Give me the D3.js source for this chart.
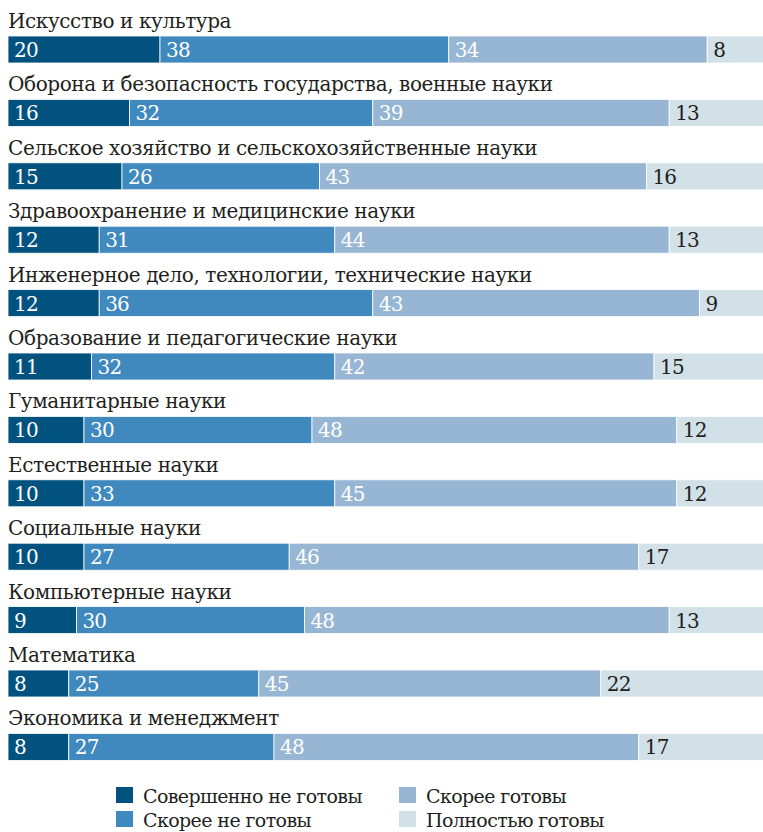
<!DOCTYPE html>
<html>
<head>
<meta charset="utf-8">
<script src="https://cdn.jsdelivr.net/npm/d3@7"></script>
<style>
  body { margin: 0; background: #fff; }
  svg { display: block; }
</style>
</head>
<body>
<svg id="chart" width="763" height="832"></svg>
<script>
// rows, top to bottom
const categories = [
  "Искусство и культура",
  "Оборона и безопасность государства, военные науки",
  "Сельское хозяйство и сельскохозяйственные науки",
  "Здравоохранение и медицинские науки",
  "Инженерное дело, технологии, технические науки",
  "Образование и педагогические науки",
  "Гуманитарные науки",
  "Естественные науки",
  "Социальные науки",
  "Компьютерные науки",
  "Математика",
  "Экономика и менеджмент"
];
const notReady     = [20, 16, 15, 12, 12, 11, 10, 10, 10, 9, 8, 8];
const ratherNot    = [38, 32, 26, 31, 36, 32, 30, 33, 27, 30, 25, 27];
const ratherReady  = [34, 39, 43, 44, 43, 42, 48, 45, 46, 48, 45, 48];
const fullyReady   = [8, 13, 16, 13, 9, 15, 12, 12, 17, 13, 22, 17];
const seriesNames  = ["Совершенно не готовы", "Скорее не готовы", "Скорее готовы", "Полностью готовы"];
const colors = ["#02527f", "#3f89bf", "#97b6d4", "#d2e0e8"];
const textColors = ["#fff", "#fff", "#fff", "#231f20"];

const svg = d3.select("#chart")
  .attr("font-family", "'DejaVu Serif', 'Liberation Serif', serif");
const rowStep = 63.4, barH = 27, firstBarY = 36;

const table = categories.map((c, i) => ({
  cat: c, s0: notReady[i], s1: ratherNot[i], s2: ratherReady[i], s3: fullyReady[i]
}));
const stack = d3.stack().keys(["s0", "s1", "s2", "s3"])(table);

const x = d3.scaleLinear().domain([0, 100]).range([8, 768]);
const y = d3.scaleBand().domain(categories)
  .range([firstBarY, firstBarY + rowStep * categories.length]).paddingInner(0).paddingOuter(0);

// category labels above each bar
svg.append("g").selectAll("text").data(categories).join("text")
  .attr("x", 8).attr("y", d => y(d) - 8)
  .attr("font-size", 20).attr("letter-spacing", -0.4).attr("fill", "#231f20")
  .text(d => d);

const layers = svg.append("g").selectAll("g").data(stack).join("g")
  .attr("fill", (d, i) => colors[i]);

layers.selectAll("rect").data(d => d).join("rect")
  .attr("x", d => x(d[0]))
  .attr("y", d => y(d.data.cat))
  .attr("width", d => x(d[1]) - x(d[0]))
  .attr("height", barH)
  .attr("stroke", "#fff").attr("stroke-width", 0.8);

layers.each(function (layer, k) {
  d3.select(this).selectAll("text").data(layer).join("text")
    .attr("x", d => x(d[0]) + 6)
    .attr("y", d => y(d.data.cat) + 21)
    .attr("font-size", 20).attr("letter-spacing", -0.8)
    .attr("fill", textColors[k])
    .text(d => d[1] - d[0]);
});

// legend
const legendPos = [[116, 787], [116, 811], [399, 787], [399, 811]];
const legend = svg.append("g").selectAll("g").data(seriesNames).join("g")
  .attr("transform", (d, i) => `translate(${legendPos[i][0]},${legendPos[i][1]})`);
legend.append("rect").attr("width", 17).attr("height", 16).attr("fill", (d, i) => colors[i]);
legend.append("text").attr("x", 27).attr("y", 15.5)
  .attr("font-size", 19).attr("letter-spacing", -0.6).attr("fill", "#231f20").text(d => d);
</script>
</body>
</html>
